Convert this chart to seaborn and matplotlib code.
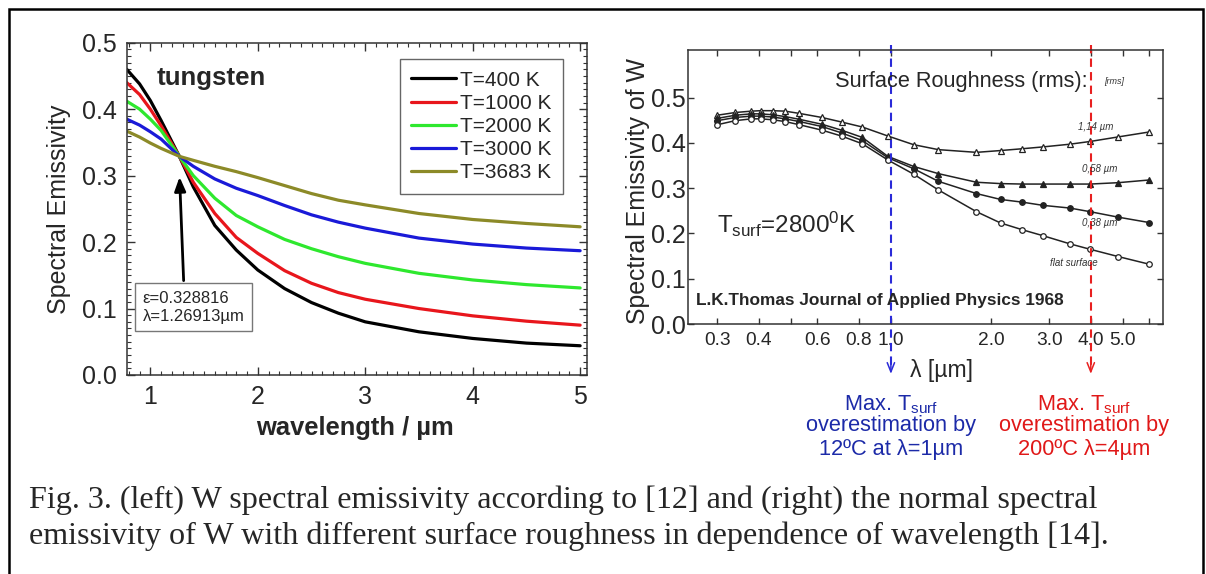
import matplotlib
matplotlib.use("Agg")
import matplotlib.pyplot as plt
import matplotlib.ticker as mticker
from matplotlib.patches import Rectangle
import seaborn as sns

sns.set_theme(style="ticks")
plt.rcParams['font.family'] = ['Liberation Sans', 'DejaVu Sans']
plt.rcParams['mathtext.fontset'] = 'custom'
plt.rcParams['mathtext.rm'] = 'Liberation Sans'
plt.rcParams['mathtext.it'] = 'Liberation Sans:italic'
plt.rcParams['mathtext.bf'] = 'Liberation Sans:bold'

# -----------------------------
# left panel: W emissivity vs wavelength for several T
# -----------------------------
wl = [0.78, 0.9, 1.0, 1.1, 1.27, 1.4, 1.6, 1.8, 2.0, 2.25, 2.5, 2.75, 3.0, 3.5, 4.0, 4.5, 5.0]
eps_400 = [0.460, 0.438, 0.413, 0.383, 0.329, 0.283, 0.225, 0.188, 0.158, 0.130, 0.109, 0.093, 0.080, 0.065, 0.055, 0.048, 0.044]
eps_1000 = [0.440, 0.422, 0.400, 0.375, 0.329, 0.290, 0.243, 0.207, 0.183, 0.157, 0.138, 0.124, 0.114, 0.100, 0.089, 0.081, 0.075]
eps_2000 = [0.412, 0.400, 0.385, 0.368, 0.329, 0.300, 0.266, 0.240, 0.223, 0.204, 0.190, 0.178, 0.168, 0.153, 0.143, 0.136, 0.131]
eps_3000 = [0.385, 0.376, 0.366, 0.355, 0.329, 0.314, 0.295, 0.281, 0.270, 0.255, 0.241, 0.230, 0.221, 0.206, 0.197, 0.191, 0.187]
eps_3683 = [0.367, 0.358, 0.349, 0.341, 0.329, 0.323, 0.314, 0.306, 0.297, 0.285, 0.273, 0.263, 0.256, 0.243, 0.234, 0.228, 0.223]
temp_labels = ["T=400 K", "T=1000 K", "T=2000 K", "T=3000 K", "T=3683 K"]
temp_colors = ["black", "#e8161c", "#2ee82e", "#1a1ad8", "#8c8a28"]

# -----------------------------
# right panel: L.K. Thomas 1968, T=2800 K, different roughness
# -----------------------------
lam = [0.30, 0.34, 0.38, 0.405, 0.44, 0.48, 0.53, 0.62, 0.71, 0.82, 0.98, 1.17, 1.39, 1.81, 2.14, 2.49, 2.87, 3.46, 3.98, 4.83, 6.0]
r_114 = [0.461, 0.467, 0.470, 0.471, 0.471, 0.470, 0.465, 0.456, 0.446, 0.435, 0.415, 0.396, 0.385, 0.379, 0.383, 0.387, 0.391, 0.397, 0.403, 0.413, 0.424]
r_058 = [0.454, 0.461, 0.464, 0.464, 0.462, 0.458, 0.452, 0.441, 0.428, 0.412, 0.370, 0.348, 0.332, 0.313, 0.310, 0.309, 0.309, 0.309, 0.309, 0.312, 0.318]
r_038 = [0.449, 0.456, 0.459, 0.459, 0.457, 0.453, 0.447, 0.436, 0.422, 0.405, 0.367, 0.343, 0.315, 0.288, 0.275, 0.269, 0.262, 0.256, 0.248, 0.236, 0.224]
r_flat = [0.440, 0.449, 0.453, 0.453, 0.451, 0.447, 0.440, 0.428, 0.415, 0.398, 0.362, 0.331, 0.296, 0.248, 0.223, 0.208, 0.195, 0.177, 0.165, 0.149, 0.132]
rough_labels = ["1,14 µm", "0,58 µm", "0,38 µm", "flat surface"]
lam_ticks = [0.3, 0.4, 0.5, 0.6, 0.8, 1.0, 2.0, 3.0, 4.0, 5.0, 6.0]
lam_ticklabels = ["0.3", "0.4", "", "0.6", "0.8", "1.0", "2.0", "3.0", "4.0", "5.0", ""]
eps_ticks = [0.0, 0.1, 0.2, 0.3, 0.4, 0.5]

caption1 = "Fig. 3. (left) W spectral emissivity according to [12] and (right) the normal spectral"
caption2 = "emissivity of W with different surface roughness in dependence of wavelength [14]."

W, H = 1206, 574
fig = plt.figure(figsize=(W / 100, H / 100), dpi=100)
renderer = fig.canvas.get_renderer()


def box(l, t, r, b):
    return [l / W, 1 - b / H, (r - l) / W, (b - t) / H]


def fit(txt, px, vertical=False):
    # scale font so the text spans px pixels (as measured on the reference)
    bb = txt.get_window_extent(renderer=renderer)
    size = bb.height if vertical else bb.width
    txt.set_fontsize(txt.get_fontsize() * px / size)
    return txt


# outer frame
fig.patches.append(Rectangle((8.5 / W, -0.05), (1203 - 8.5) / W, 1.05 - 9.3 / H,
                             transform=fig.transFigure, fill=False, lw=1.8, ec="black"))

# ----- left panel -----
ax1 = fig.add_axes(box(126.8, 42.7, 587, 375))
series = [eps_400, eps_1000, eps_2000, eps_3000, eps_3683]
for vals, lab, col in zip(series, temp_labels, temp_colors):
    sns.lineplot(x=wl, y=vals, color=col, lw=2.3, label=lab, ax=ax1)

ax1.set_xlim(0.781, 5.064)
ax1.set_ylim(0, 0.5)
ax1.xaxis.set_major_locator(mticker.MultipleLocator(1))
ax1.xaxis.set_minor_locator(mticker.MultipleLocator(0.1))
ax1.yaxis.set_major_locator(mticker.MultipleLocator(0.1))
ax1.yaxis.set_minor_locator(mticker.MultipleLocator(0.01))
ax1.yaxis.set_major_formatter(mticker.FormatStrFormatter("%.1f"))
ax1.tick_params(which="both", direction="in", top=True, right=True, color="#333333")
ax1.tick_params(which="major", length=5.5, width=1.0, labelsize=18, pad=7)
ax1.tick_params(which="minor", length=2.8, width=0.8)
for s in ax1.spines.values():
    s.set_linewidth(1.1)
    s.set_color("#333333")
ax1.set_xlabel("")
ax1.set_ylabel("")
ax1.text(-0.147, 0.5, "Spectral Emissivity", transform=ax1.transAxes, rotation=90,
         ha="center", va="center", fontsize=18)
fit(ax1.text(0.496, -0.160, "wavelength / µm", transform=ax1.transAxes,
             ha="center", va="center", fontsize=18, fontweight="bold"), 198)
fit(ax1.text(0.0645, 0.893, "tungsten", transform=ax1.transAxes, ha="left", va="center",
             fontsize=16.5, fontweight="bold"), 109)

leg = ax1.legend(loc="upper right", bbox_to_anchor=(0.9468, 0.950), borderaxespad=0,
                 fontsize=15, handlelength=2.15, handletextpad=0.18, labelspacing=0.2,
                 borderpad=0.55, fancybox=False, framealpha=1)
leg.get_frame().set_edgecolor("#666666")
leg.get_frame().set_linewidth(1.0)

ax1.text(0.93, 0.1023, "ε=0.328816\nλ=1.26913µm", ha="left", va="center", fontsize=12,
         linespacing=1.25,
         bbox=dict(boxstyle="square,pad=0.45", fc="white", ec="#777777", lw=1.0))
ax1.annotate("", xy=(1.272, 0.298), xytext=(1.31, 0.142),
             arrowprops=dict(arrowstyle="-|>,head_length=0.7,head_width=0.28",
                             color="black", lw=2.0, shrinkA=0, shrinkB=0))

# ----- right panel -----
ax2 = fig.add_axes(box(687.5, 50, 1163, 324))
rough_series = [r_114, r_058, r_038, r_flat]
rough_markers = ["^", "^", "o", "o"]
rough_faces = ["white", "#222222", "#222222", "white"]
for vals, mk, fc in zip(rough_series, rough_markers, rough_faces):
    sns.lineplot(x=lam, y=vals, color="#222222", lw=1.1, marker=mk, markersize=4.0,
                 markerfacecolor=fc, markeredgecolor="#222222", markeredgewidth=0.9, ax=ax2)

ax2.set_xscale("log")
ax2.set_xlim(0.244, 6.6)
ax2.set_ylim(0, 0.605)
ax2.set_xticks(lam_ticks)
ax2.set_xticklabels(lam_ticklabels)
ax2.xaxis.set_minor_locator(mticker.NullLocator())
ax2.set_yticks(eps_ticks)
ax2.yaxis.set_major_formatter(mticker.FormatStrFormatter("%.1f"))
ax2.tick_params(which="both", direction="in", top=True, right=True, color="#333333")
ax2.tick_params(axis="x", length=4, width=1.0, labelsize=13.8, pad=6)
ax2.tick_params(axis="y", length=4, width=1.0, labelsize=18, pad=1)
for s in ax2.spines.values():
    s.set_linewidth(1.1)
    s.set_color("#333333")
ax2.set_xlabel("")
ax2.set_ylabel("")
fit(ax2.text(-0.104, 0.4836, "Spectral Emissivity of W", transform=ax2.transAxes, rotation=90,
             ha="center", va="center", fontsize=18), 267, vertical=True)
fit(ax2.text(0.535, -0.168, "λ [µm]", transform=ax2.transAxes, ha="center", va="center",
             fontsize=15.5), 63)
fit(ax2.text(0.310, 0.884, "Surface Roughness (rms):", transform=ax2.transAxes,
             ha="left", va="center", fontsize=15.5), 254)
ax2.text(0.876, 0.884, "[rms]", transform=ax2.transAxes, ha="left", va="center",
         fontsize=6.5, style="italic", color="#333333")
rough_pos = [(0.821, 0.719), (0.830, 0.566), (0.830, 0.369), (0.762, 0.223)]
for lab, (px, py) in zip(rough_labels, rough_pos):
    ax2.text(px, py, lab, transform=ax2.transAxes, ha="left", va="center",
             fontsize=7, style="italic", color="#333333")
fit(ax2.text(0.0614, 0.365, r"T$_{\rm surf}$=2800$^{\rm 0}$K", transform=ax2.transAxes,
             ha="left", va="center", fontsize=17.5), 139)
fit(ax2.text(0.017, 0.084, "L.K.Thomas Journal of Applied Physics 1968", transform=ax2.transAxes,
             ha="left", va="center", fontsize=12.5, fontweight="bold"), 368)

# dashed markers at 1 um and 4 um with arrows below the axis
trans = ax2.get_xaxis_transform()
for xv, col in [(1.0, "#2a2ad8"), (4.0, "#e82020")]:
    ax2.plot([xv, xv], [1.018, -0.15], transform=trans, clip_on=False, color=col,
             lw=1.5, ls=(0, (4, 2.5)))
    ax2.annotate("", xy=(xv, -0.182), xytext=(xv, -0.13), xycoords=trans, textcoords=trans,
                 annotation_clip=False,
                 arrowprops=dict(arrowstyle="->,head_length=0.55,head_width=0.22",
                                 color=col, lw=1.1, shrinkA=0, shrinkB=0))

blue_txt = "#1c2aa8"
red_txt = "#e01818"
note_size = fit(fig.text(891 / W, 1 - 426 / H, "overestimation by", color=blue_txt,
                         ha="center", va="center", fontsize=15.5), 170).get_fontsize()
fig.text(891 / W, 1 - 405 / H, r"Max. T$_{\rm surf}$", color=blue_txt, ha="center", va="center", fontsize=note_size)
fig.text(891 / W, 1 - 449 / H, "12ºC at λ=1µm", color=blue_txt, ha="center", va="center", fontsize=note_size)
fig.text(1084 / W, 1 - 405 / H, r"Max. T$_{\rm surf}$", color=red_txt, ha="center", va="center", fontsize=note_size)
fig.text(1084 / W, 1 - 426 / H, "overestimation by", color=red_txt, ha="center", va="center", fontsize=note_size)
fig.text(1084 / W, 1 - 449 / H, "200ºC λ=4µm", color=red_txt, ha="center", va="center", fontsize=note_size)

# caption
cap = fit(fig.text(28.8 / W, 1 - 500 / H, caption1, ha="left", va="center", fontsize=21,
                   family=["Liberation Serif", "DejaVu Serif"]), 1094 - 28.8)
fig.text(28.8 / W, 1 - 536.7 / H, caption2, ha="left", va="center", fontsize=cap.get_fontsize(),
         family=["Liberation Serif", "DejaVu Serif"])

fig.savefig("out.png", dpi=100, facecolor="white")
